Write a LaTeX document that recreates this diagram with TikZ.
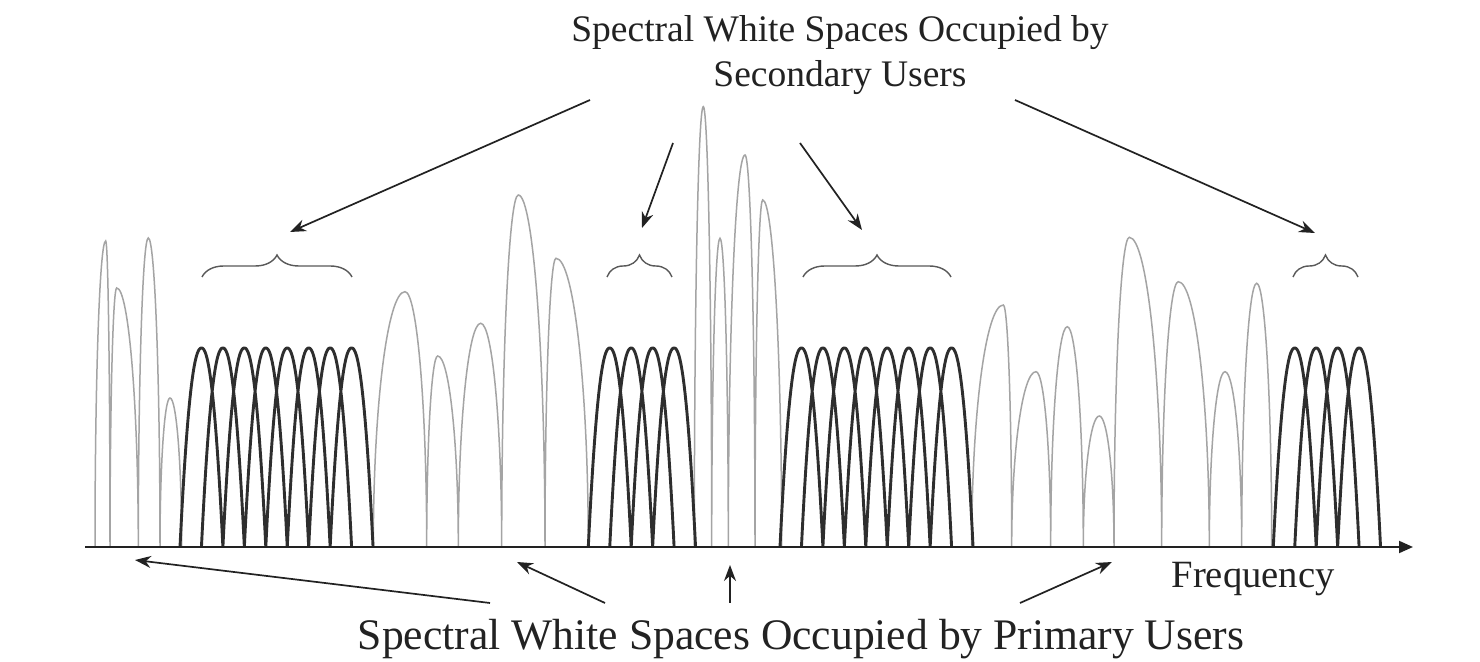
\documentclass[tikz,border=0pt]{standalone}
\usepackage{fontspec}
\setmainfont{Liberation Serif}
\usetikzlibrary{arrows.meta,decorations.pathreplacing}
\definecolor{ink}{HTML}{222222}
\definecolor{pulobe}{HTML}{A4A4A4}
\definecolor{sulobe}{HTML}{2E2E2E}
\tikzset{
  pulines/.style={draw=pulobe,line width=0.75pt},
  sulines/.style={draw=sulobe,line width=1.45pt},
  axisline/.style={draw=ink,line width=1pt,-{Triangle[length=7pt,width=6pt]}},
  callout/.style={draw=ink,line width=0.85pt,-{Stealth[length=8pt,width=6pt]}},
  bracemark/.style={draw=black!65,line width=0.7pt,decorate,decoration={brace,amplitude=11pt}},
  toplabel/.style={font=\fontsize{18.75}{22}\selectfont,text=ink,inner sep=0pt,anchor=base},
  botlabel/.style={font=\fontsize{21.8}{25}\selectfont,text=ink,inner sep=0pt,anchor=base},
  freqlabel/.style={font=\fontsize{19.3}{23}\selectfont,text=ink,inner sep=0pt,anchor=base}
}
\begin{document}
\begin{tikzpicture}[x=0.5pt,y=-0.5pt]
\useasboundingbox[fill=white] (0,0) rectangle (1480,662);

% primary-user lobes (grey)
\draw[pulines] foreach \l/\p/\r/\t in {
  95/105.7/110/241, 110/116.7/138.3/288, 138.3/148.3/160/238, 160/170/181.7/398,
  373.3/405/426.7/291.7, 426.7/437.7/458.3/356, 458.3/480.7/501.7/323.3,
  501.7/518.3/545/195, 545/556/588.3/258.3,
  694.3/703.3/711.7/106.7, 711.7/720/728.3/238.3, 728.3/745/755/155, 755/762.7/781.7/200,
  971.7/1003.3/1011.7/305, 1011.7/1036/1050.7/371.7, 1050.7/1067.3/1083.3/326.7,
  1083.3/1099.3/1114/416, 1114/1129.3/1161.7/237.3, 1161.7/1178.3/1209.3/281.7,
  1209.3/1225/1241.7/371.7, 1241.7/1256.7/1271.7/283.3}
  { (\l,547) arc[start angle=180,end angle=270,x radius={\p-\l},y radius={547-\t}]
             arc[start angle=270,end angle=360,x radius={\r-\p},y radius={547-\t}] };

% secondary-user lobes (dark)
\draw[sulines] foreach \f/\n in {180/7, 588.3/3, 780/7, 1273.3/3}
  { foreach \k in {0,...,\n}
    { plot[domain=-1:1,samples=50,smooth] ({\f+(\k+1+\x)*21.45},{547-199*(1-abs(\x)^2.2)}) } };

% frequency axis
\coordinate (ax0) at (85,547);
\coordinate (ax1) at (1413,547);
\draw[axisline] (ax0) -- (ax1);

% braces
\coordinate (b1l) at (202,277); \coordinate (b1r) at (352,277);
\coordinate (b2l) at (607,277); \coordinate (b2r) at (672,277);
\coordinate (b3l) at (803,277); \coordinate (b3r) at (951,277);
\coordinate (b4l) at (1293,277); \coordinate (b4r) at (1358,277);
\draw[bracemark] (b1l) -- (b1r);
\draw[bracemark] (b2l) -- (b2r);
\draw[bracemark] (b3l) -- (b3r);
\draw[bracemark] (b4l) -- (b4r);

% labels
\node[toplabel] (su1) at (840,42) {Spectral White Spaces Occupied by};
\node[toplabel] (su2) at (840,87) {Secondary Users};
\node[botlabel] (pu) at (801,650) {Spectral White Spaces Occupied by Primary Users};
\node[freqlabel] (fq) at (1253,588) {Frequency};

% secondary-user callouts
\coordinate (s1t) at (590,100);  \coordinate (s1h) at (290,232);
\coordinate (s2t) at (673,143);  \coordinate (s2h) at (642,228);
\coordinate (s3t) at (800,143);  \coordinate (s3h) at (862,230);
\coordinate (s4t) at (1015,100); \coordinate (s4h) at (1315,233);
\draw[callout] (s1t) -- (s1h);
\draw[callout] (s2t) -- (s2h);
\draw[callout] (s3t) -- (s3h);
\draw[callout] (s4t) -- (s4h);

% primary-user callouts
\coordinate (p1t) at (490,603);  \coordinate (p1h) at (135,560);
\coordinate (p2t) at (605,603);  \coordinate (p2h) at (517,562);
\coordinate (p3t) at (730,603);  \coordinate (p3h) at (730,565);
\coordinate (p4t) at (1020,603); \coordinate (p4h) at (1112,562);
\draw[callout] (p1t) -- (p1h);
\draw[callout] (p2t) -- (p2h);
\draw[callout] (p3t) -- (p3h);
\draw[callout] (p4t) -- (p4h);
\end{tikzpicture}
\end{document}
